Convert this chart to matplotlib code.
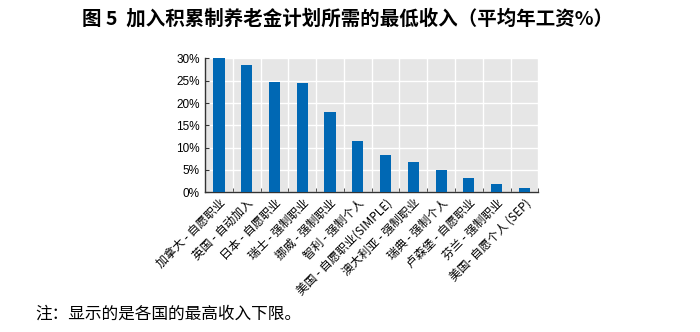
import matplotlib.pyplot as plt
import numpy as np
from matplotlib.ticker import FixedLocator, FuncFormatter

plt.rcParams['font.family'] = ['Noto Sans CJK SC', 'DejaVu Sans']

# minimum income to join a funded pension plan, % of average wage
plans = ['加拿大 - 自愿职业', '英国 - 自动加入', '日本 - 自愿职业', '瑞士 - 强制职业',
         '挪威 - 强制职业', '智利 - 强制个人', '美国 - 自愿职业(SIMPLE)', '澳大利亚 - 强制职业',
         '瑞典 - 强制个人', '卢森堡 - 自愿职业', '芬兰 - 强制职业', '美国- 自愿个人 (SEP)']
min_income = [30.0, 28.6, 24.8, 24.5, 18.0, 11.5, 8.3, 6.8, 4.9, 3.3, 1.8, 1.0]
y_ticks = [0, 5, 10, 15, 20, 25, 30]

blue = '#0068b4'
grey_bg = '#e6e6e6'

fig = plt.figure(figsize=(7.0, 3.32), dpi=100)
ax = fig.add_axes([0.293, 0.421, 0.476, 0.403])
ax.set_facecolor(grey_bg)

x = np.arange(len(plans))
ax.bar(x, min_income, width=0.4, color=blue, zorder=3)

ax.set_xlim(-0.5, len(plans) - 0.5)
ax.set_ylim(0, 30)
ax.set_yticks(y_ticks)
ax.yaxis.set_major_formatter(FuncFormatter(lambda v, p: f'{v:.0f}%'))
for lab in ax.get_yticklabels():
    lab.set_family(['Liberation Sans', 'DejaVu Sans'])
    lab.set_fontsize(8.5)

# category labels on the bars, ticks and grid on the boundaries
ax.set_xticks(x)
ax.set_xticklabels(plans, rotation=45, ha='right', rotation_mode='anchor', fontsize=8.5)
ax.tick_params(axis='x', which='major', length=0, pad=3)
ax.xaxis.set_minor_locator(FixedLocator(np.arange(0.5, len(plans), 1.0)))
ax.tick_params(axis='x', which='minor', direction='in', length=3, color='#333333')
ax.tick_params(axis='y', direction='in', length=3, color='#333333', pad=4)

ax.grid(axis='y', which='major', color='white', linewidth=1.0, zorder=0)
ax.grid(axis='x', which='minor', color='white', linewidth=1.0, zorder=0)
ax.set_axisbelow(True)

for s in ['top', 'right']:
    ax.spines[s].set_visible(False)
for s in ['left', 'bottom']:
    ax.spines[s].set_color('#333333')
    ax.spines[s].set_linewidth(1.0)

fig.text(0.497, 0.945, '图 5  加入积累制养老金计划所需的最低收入（平均年工资%）',
         ha='center', va='center', fontsize=14, fontweight='bold')
fig.text(0.05, 0.055, '注：显示的是各国的最高收入下限。', ha='left', va='center', fontsize=12)

fig.savefig('out.png', dpi=100)
